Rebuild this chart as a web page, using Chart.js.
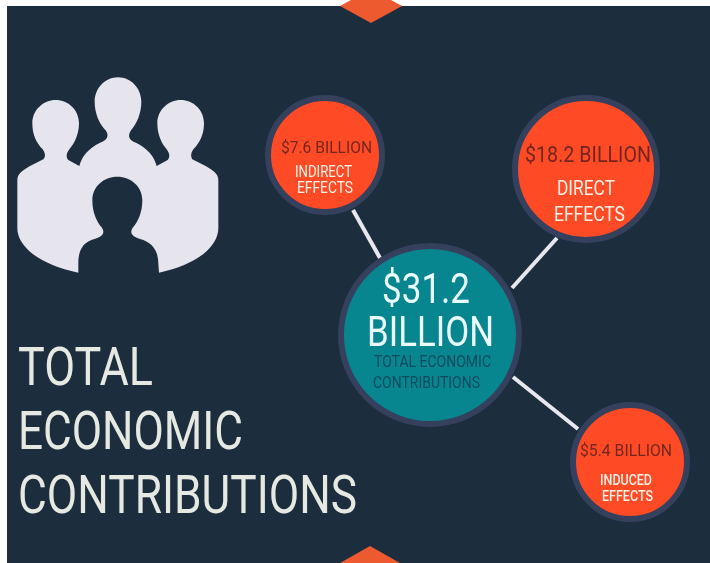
<!DOCTYPE html>
<html>
<head>
<meta charset="utf-8">
<title>Total Economic Contributions</title>
<style>
  html, body { margin: 0; padding: 0; background: #fff; }
  canvas { display: block; }
</style>
<script src="https://cdn.jsdelivr.net/npm/chart.js@4"></script>
</head>
<body>
<canvas id="chart" width="710" height="563"></canvas>
<script>
// values, hub first
const categories = ["TOTAL ECONOMIC CONTRIBUTIONS", "DIRECT EFFECTS", "INDIRECT EFFECTS", "INDUCED EFFECTS"];
const billions = [31.2, 18.2, 7.6, 5.4];
const nodeX = [430, 586, 325, 630];
const nodeY = [335, 169, 155, 462];
const nodeSize = [89, 71, 57, 57];
const nodeColors = ["#07868f", "#fe4b26", "#fe4b26", "#fe4b26"];

// connector ends, one pair per outer node
const linkX = [[512, 557], [380, 353], [513, 578]];
const linkY = [[288, 238], [258, 210], [377, 429]];

const PANEL = "#1c2d3d";
const RING = "#34405c";
const LINK = "#e8e6ef";
const ORANGE = "#ee5a30";
const DARK_RED = "#732620";
const PALE = "#fff1e6";
const DARK_TEAL = "#0f4a5c";
const TITLE = "#e6e8e2";

const money = (v) => `$${v} BILLION`;

// text, left, baseline, width, font size, weight, colour
const labels = [
  ["TOTAL", 18, 385, 135, 53, 400, TITLE],
  ["ECONOMIC", 18, 449, 225, 53, 400, TITLE],
  ["CONTRIBUTIONS", 18, 513, 339, 53, 400, TITLE],
  [`$${billions[0]}`, 382, 303, 88, 42, 400, "#e9fbfb"],
  ["BILLION", 367, 346, 127, 42, 400, "#e9fbfb"],
  ["TOTAL ECONOMIC", 374, 367, 117, 16.5, 400, DARK_TEAL],
  ["CONTRIBUTIONS", 373, 388, 107, 16.5, 400, DARK_TEAL],
  [money(billions[1]), 525, 162, 126, 22, 400, DARK_RED],
  ["DIRECT", 557, 195, 58, 20, 400, PALE],
  ["EFFECTS", 554, 221, 71, 20, 400, PALE],
  [money(billions[2]), 281, 153, 91, 17, 400, DARK_RED],
  ["INDIRECT", 295, 177, 57, 16, 400, PALE],
  ["EFFECTS", 297, 193, 56, 16, 400, PALE],
  [money(billions[3]), 580, 456, 92, 17, 400, DARK_RED],
  ["INDUCED", 600, 485, 52, 14, 500, PALE],
  ["EFFECTS", 602, 501, 51, 14, 500, PALE],
];

// group-of-people icon, traced at 3x
const peopleIcon = new Path2D(
  "M52 360C52 340 70 330 90 318L130 298C138 290 136 280 128 268C108 248 97 222 97 190" +
  "C97 150 130 120 167 120C205 120 237 150 237 190C237 222 224 250 208 268C198 282 198 292 205 300L238 318" +
  "C245 290 265 265 300 248C322 240 328 228 318 212C298 192 284 160 284 125C284 85 315 52 354 52" +
  "C393 52 424 85 424 125C424 160 410 192 392 212C383 228 386 240 408 248C443 265 463 290 470 318L503 300" +
  "C510 292 510 282 500 268C484 250 472 222 472 190C472 150 505 120 542 120C580 120 612 150 612 190" +
  "C612 222 600 248 580 268C572 280 572 290 577 298L617 318C637 330 655 340 655 360L655 505" +
  "C655 560 590 615 477 638L475 610C475 570 455 550 430 540C395 530 388 520 398 503" +
  "C415 485 427 455 427 420C427 380 393 350 352 350C311 350 277 380 277 420C277 455 289 485 306 503" +
  "C316 520 309 530 274 540C249 550 235 570 235 610L235 638C120 615 52 560 52 505Z"
);

const backdrop = {
  id: "backdrop",
  beforeDraw(chart) {
    const ctx = chart.ctx;
    ctx.save();
    ctx.fillStyle = "#fff";
    ctx.fillRect(0, 0, 710, 563);
    ctx.fillStyle = PANEL;
    ctx.fillRect(7, 6, 703, 557);

    // the two orange diamonds cut by the panel edges
    ctx.fillStyle = ORANGE;
    ctx.beginPath();
    ctx.moveTo(371, -11);
    ctx.lineTo(402, 6);
    ctx.lineTo(371, 23);
    ctx.lineTo(340, 6);
    ctx.closePath();
    ctx.fill();
    ctx.beginPath();
    ctx.moveTo(370, 546);
    ctx.lineTo(400, 563);
    ctx.lineTo(340, 563);
    ctx.closePath();
    ctx.fill();

    ctx.translate(0, 60);
    ctx.scale(1 / 3, 1 / 3);
    ctx.fillStyle = "#e6e4ec";
    ctx.fill(peopleIcon);
    ctx.restore();
  },
};

const textLabels = {
  id: "textLabels",
  afterDatasetsDraw(chart) {
    const ctx = chart.ctx;
    ctx.save();
    ctx.textAlign = "left";
    ctx.textBaseline = "alphabetic";
    labels.forEach(([text, x, y, width, size, weight, color]) => {
      ctx.font = `${weight} ${size}px Roboto, sans-serif`;
      ctx.fillStyle = color;
      // Roboto Condensed isn't installed, squeeze to the measured width
      const natural = ctx.measureText(text).width;
      ctx.save();
      ctx.translate(x, y);
      ctx.scale(width / natural, 1);
      ctx.fillText(text, 0, 0);
      ctx.restore();
    });
    ctx.restore();
  },
};

const linkDatasets = linkX.map((xs, i) => ({
  type: "line",
  data: xs.map((x, j) => ({ x, y: linkY[i][j] })),
  borderColor: LINK,
  borderWidth: 4,
  pointRadius: 0,
  order: 2,
}));

new Chart(document.getElementById("chart"), {
  type: "bubble",
  data: {
    labels: categories,
    datasets: [
      {
        data: nodeX.map((x, i) => ({ x, y: nodeY[i], r: nodeSize[i] })),
        backgroundColor: nodeColors,
        borderColor: RING,
        borderWidth: 6,
        order: 1,
      },
      ...linkDatasets,
    ],
  },
  options: {
    responsive: false,
    animation: false,
    // bubbles would otherwise push the plot area in by their radius
    layout: { padding: 0, autoPadding: false },
    plugins: { legend: { display: false }, tooltip: { enabled: false } },
    scales: {
      x: { type: "linear", display: false, min: 0, max: 710 },
      y: { type: "linear", display: false, min: 0, max: 563, reverse: true },
    },
  },
  plugins: [backdrop, textLabels],
});
</script>
</body>
</html>
